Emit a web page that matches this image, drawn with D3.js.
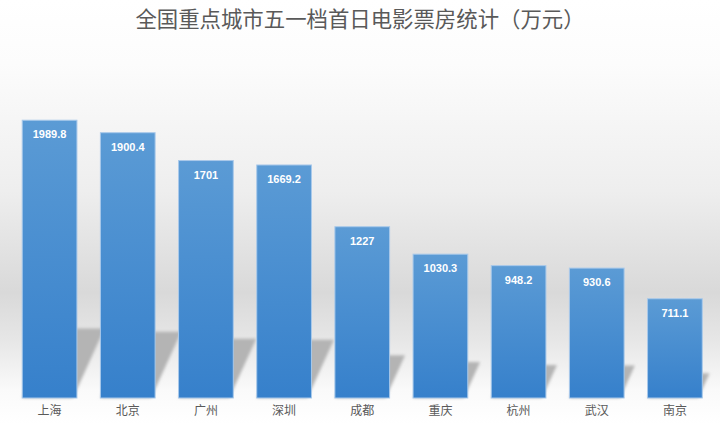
<!DOCTYPE html>
<html>
<head>
<meta charset="utf-8">
<script src="https://cdn.jsdelivr.net/npm/d3@7"></script>
<style>
  body { margin: 0; background: #fff; }
  svg { display: block; font-family: "Noto Sans CJK SC", "Noto Sans", sans-serif; }
</style>
</head>
<body>
<div id="chart"></div>
<script>
const cities = ["上海", "北京", "广州", "深圳", "成都", "重庆", "杭州", "武汉", "南京"];
const boxOffice = [1989.8, 1900.4, 1701, 1669.2, 1227, 1030.3, 948.2, 930.6, 711.1];
const title = "全国重点城市五一档首日电影票房统计（万元）";

const width = 720, height = 424;
const baseY = 398;

const data = cities.map((c, i) => ({ city: c, value: boxOffice[i] }));

const svg = d3.select("#chart").append("svg")
  .attr("width", width)
  .attr("height", height);

const defs = svg.append("defs");

// wall / floor background
const bg = defs.append("linearGradient").attr("id", "bg")
  .attr("x1", 0).attr("y1", 0).attr("x2", 0).attr("y2", 1);
bg.append("stop").attr("offset", "0%").attr("stop-color", "#ffffff");
bg.append("stop").attr("offset", "15%").attr("stop-color", "#fcfcfc");
bg.append("stop").attr("offset", "45%").attr("stop-color", "#eeeeee");
bg.append("stop").attr("offset", "69%").attr("stop-color", "#d9d9d9");
bg.append("stop").attr("offset", "80%").attr("stop-color", "#e6e6e6");
bg.append("stop").attr("offset", "92%").attr("stop-color", "#fafafa");
bg.append("stop").attr("offset", "100%").attr("stop-color", "#ffffff");

const barGrad = defs.append("linearGradient").attr("id", "barGrad")
  .attr("x1", 0).attr("y1", 0).attr("x2", 0).attr("y2", 1);
barGrad.append("stop").attr("offset", "0%").attr("stop-color", "#5b9bd5");
barGrad.append("stop").attr("offset", "100%").attr("stop-color", "#3680cb");

defs.append("filter").attr("id", "blur")
  .attr("x", "-30%").attr("y", "-30%").attr("width", "160%").attr("height", "160%")
  .append("feGaussianBlur").attr("stdDeviation", 1.6);

svg.append("rect")
  .attr("width", width).attr("height", height)
  .attr("fill", "url(#bg)");

const x = d3.scaleBand()
  .domain(cities)
  .range([10.5, 714])
  .paddingInner(0.3)
  .paddingOuter(0.15);

const y = d3.scaleLinear()
  .domain([0, 2500])
  .range([baseY, 49]);

// shadows cast back onto the floor
svg.append("g").attr("filter", "url(#blur)")
  .selectAll("path")
  .data(data)
  .join("path")
  .attr("fill", "#b4b4b4")
  .attr("d", d => {
    const x0 = x(d.city), x1 = x0 + x.bandwidth() - 4;
    const h = (baseY - y(d.value)) * 0.25;
    const dx = h / 2.2;
    return `M${x0},${baseY}L${x1},${baseY}L${x1 + dx},${baseY - h}L${x0 + dx},${baseY - h}Z`;
  });

// bars
svg.append("g")
  .selectAll("rect")
  .data(data)
  .join("rect")
  .attr("x", d => x(d.city))
  .attr("y", d => y(d.value))
  .attr("width", x.bandwidth())
  .attr("height", d => baseY - y(d.value))
  .attr("fill", "url(#barGrad)")
  .attr("stroke", "#a9c9ea")
  .attr("stroke-width", 1);

// value labels
svg.append("g")
  .selectAll("text")
  .data(data)
  .join("text")
  .attr("x", d => x(d.city) + x.bandwidth() / 2)
  .attr("y", d => y(d.value) + 18)
  .attr("text-anchor", "middle")
  .attr("fill", "#ffffff")
  .attr("font-family", "Liberation Sans, Arial, sans-serif")
  .attr("font-size", 11)
  .attr("font-weight", "bold")
  .text(d => d.value);

// category axis
const xAxis = d3.axisBottom(x).tickSize(0).tickPadding(8);
const gx = svg.append("g")
  .attr("transform", `translate(0,${baseY})`)
  .call(xAxis);
gx.select(".domain").remove();
gx.selectAll("text")
  .attr("fill", "#595959")
  .attr("font-size", 12)
  .attr("font-family", "Noto Sans CJK SC");

svg.append("text")
  .attr("x", width / 2)
  .attr("y", 27)
  .attr("text-anchor", "middle")
  .attr("fill", "#595959")
  .attr("font-size", 21.4)
  .text(title);
</script>
</body>
</html>
